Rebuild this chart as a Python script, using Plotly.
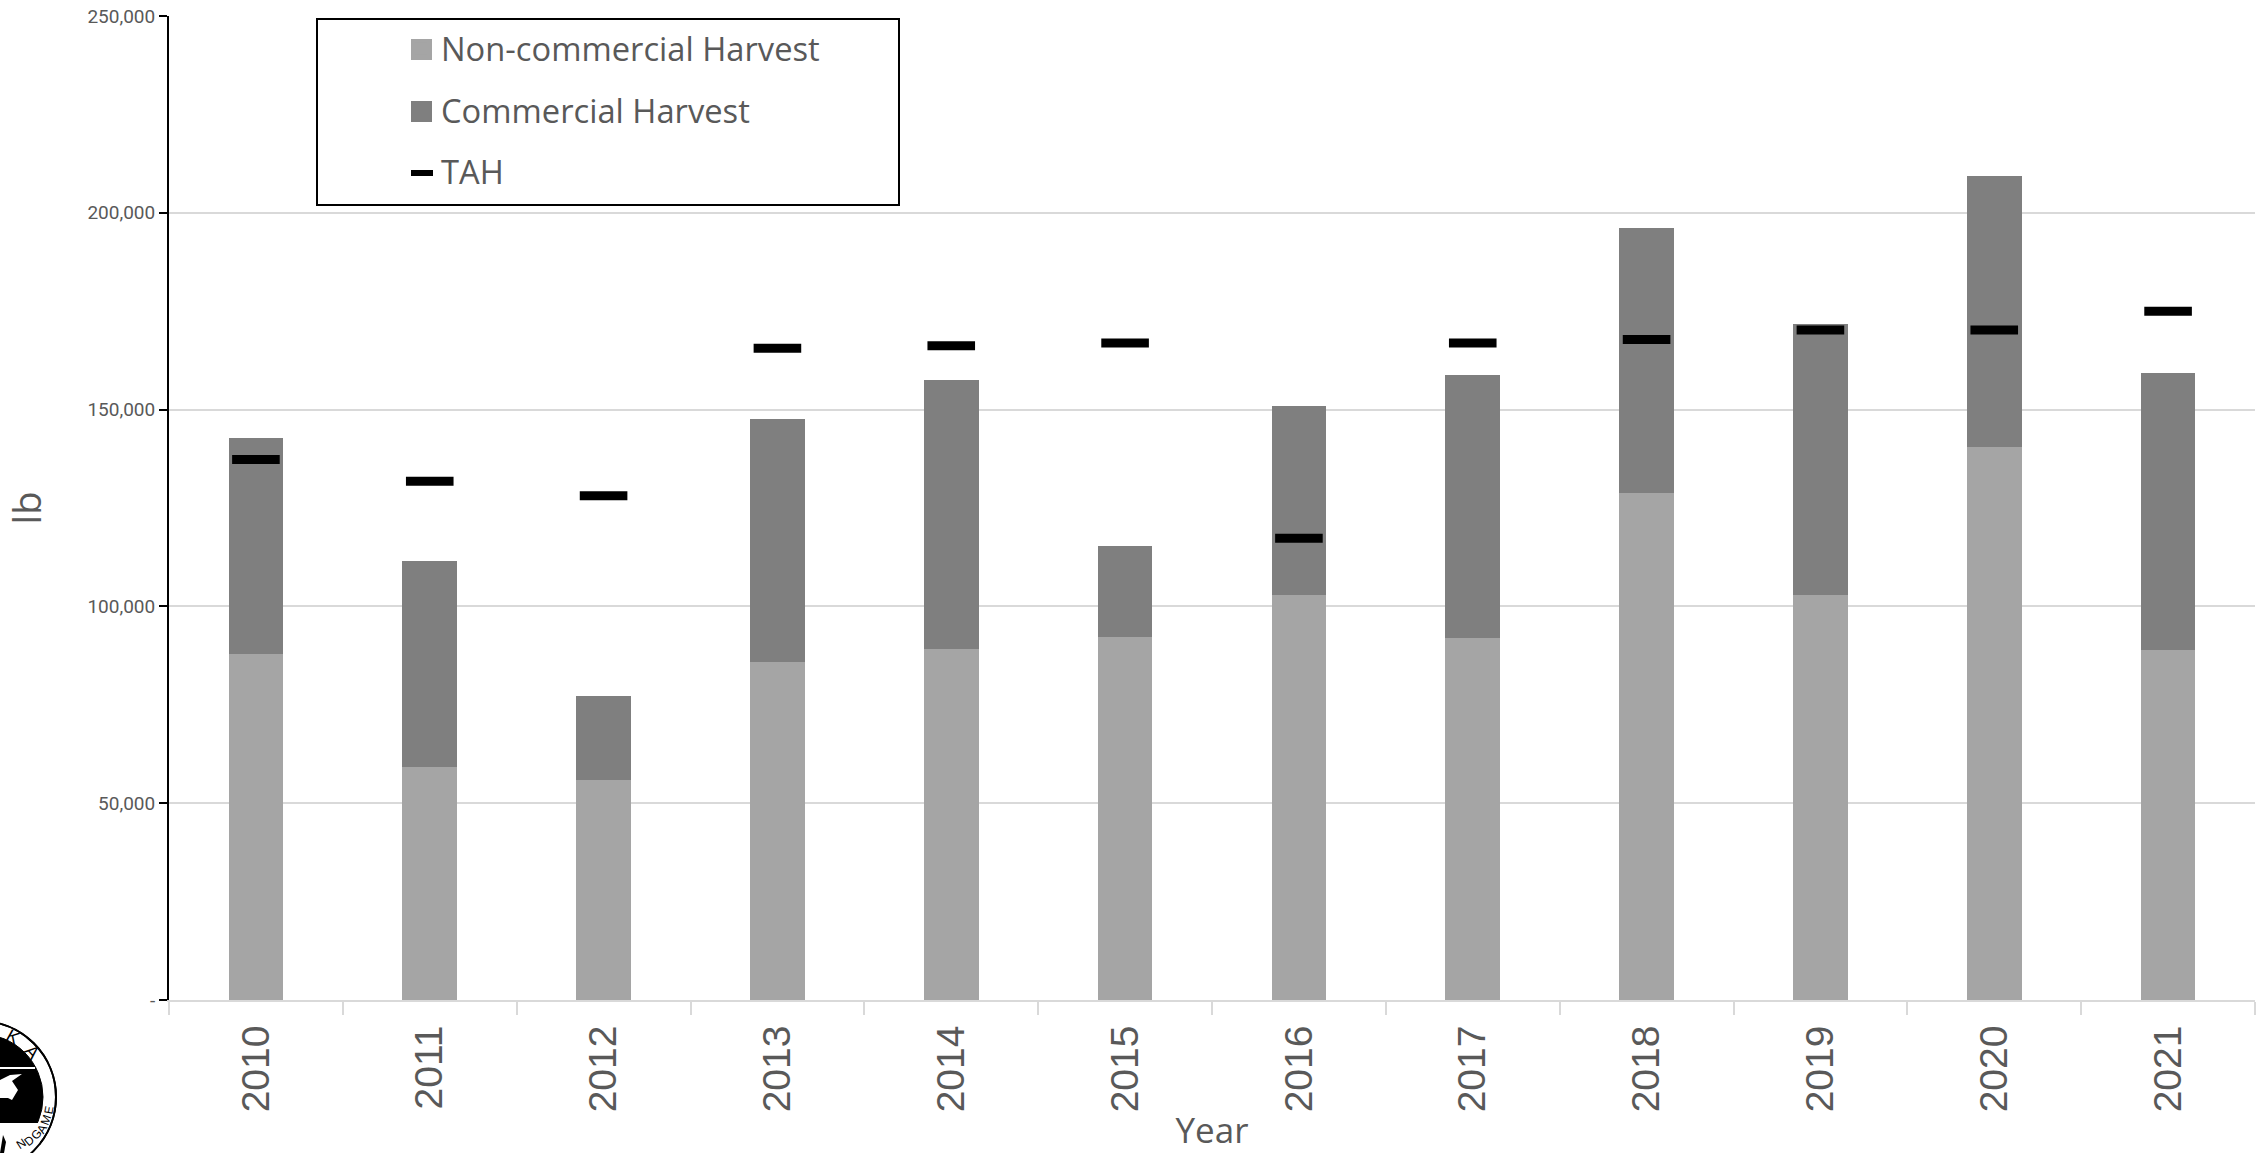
import plotly.graph_objects as go

years = ["2010","2011","2012","2013","2014","2015","2016","2017","2018","2019","2020","2021"]
non_commercial = [87850,59300,56000,86000,89300,92200,102900,91900,128800,102900,140600,89000]
commercial = [54900,52300,21200,61500,68100,23100,47900,67000,67400,68800,68800,70200]
tah = [137300,131800,128100,165600,166200,166900,117300,166900,167800,170200,170200,175000]
y_ticks = [0,50000,100000,150000,200000,250000]
y_labels = ["-","50,000","100,000","150,000","200,000","250,000"]

W, H = 2259, 1153
L, R, T, B = 169, 4, 16, 153
TXT = "#595959"
def px(x): return (x-L)/(W-L-R)
def py(y): return 1-(y-T)/(H-T-B)
def rect(x0,y0,x1,y1,fill="rgba(0,0,0,0)",line=None,width=0):
    return dict(type="rect",xref="paper",yref="paper",x0=px(x0),x1=px(x1),y0=py(y0),y1=py(y1),
                fillcolor=fill,line=dict(color=line or "rgba(0,0,0,0)",width=width),layer="above")
def circ(cx,cy,r,fill,line,width):
    return dict(type="circle",xref="paper",yref="paper",x0=px(cx-r),x1=px(cx+r),y0=py(cy+r),y1=py(cy-r),
                fillcolor=fill,line=dict(color=line,width=width),layer="above")
def poly(pts,fill):
    d="M"+"L".join(f"{px(a):.5f},{py(b):.5f}" for a,b in pts)+"Z"
    return dict(type="path",xref="paper",yref="paper",path=d,fillcolor=fill,line=dict(width=0),layer="above")

fig = go.Figure()
fig.add_bar(x=years, y=non_commercial, name="Non-commercial Harvest", marker=dict(color="#a5a5a5", line=dict(width=0)), width=0.315, legendgroup="a")
fig.add_bar(x=years, y=commercial, name="Commercial Harvest", marker=dict(color="#7f7f7f", line=dict(width=0)), width=0.315, legendgroup="b")
fig.add_scatter(x=years, y=tah, name="TAH", mode="markers", legendgroup="c",
                marker=dict(symbol="line-ew", size=34, color="black", line=dict(color="black", width=9)))

CX, CY = -20, 1097
shapes = [
    rect(317,19,899,205,line="black",width=2),
    rect(411,39,432,60,fill="#a5a5a5"),
    rect(411,101,432,122,fill="#7f7f7f"),
    rect(411,170,433,176,fill="black"),
    circ(CX,CY,76,"white","black",2),
    circ(CX,CY,63,"black","black",1),
    rect(-5,1123,40,1170,fill="white"),
    circ(CX,CY,76,"rgba(0,0,0,0)","black",2),
    rect(0,1067,35,1069,fill="white"),
    poly([(0,1080),(10,1075),(22,1074),(12,1081),(18,1090),(12,1100),(8,1098),(0,1098)],"white"),
    poly([(0,1153),(3,1135),(6,1142),(4,1153)],"black"),
]
letters = [("K",13,1037,29),("A",32,1052,49),("E",49,1110,-80),("M",46,1120,-70),("A",42,1129,-60),
           ("G",36,1135,-52),("D",29,1141,-40),("N",21,1144,-33)]
annotations = [dict(text=t,xref="paper",yref="paper",x=px(a),y=py(b),showarrow=False,textangle=r,
                    xanchor="center",yanchor="middle",
                    font=dict(size=12 if r<0 else 18,family="Liberation Sans",color="black")) for t,a,b,r in letters]

fig.update_layout(
    width=W, height=H, barmode="stack", plot_bgcolor="white", paper_bgcolor="white",
    margin=dict(l=L, r=R, t=T, b=B, autoexpand=False),
    font=dict(family="Open Sans", color=TXT),
    showlegend=True, shapes=shapes, annotations=annotations,
    legend=dict(x=px(401), y=py(20.5), xanchor="left", yanchor="top",
                bgcolor="rgba(0,0,0,0)", borderwidth=0,
                font=dict(size=32.7, color=TXT, family="Open Sans"),
                traceorder="grouped", tracegroupgap=16, itemsizing="constant", itemwidth=30),
    xaxis=dict(type="category", range=[-0.5,11.5], tickson="boundaries", ticks="outside", ticklen=13, tickwidth=2,
               tickcolor="#d9d9d9", showline=True, linecolor="#d9d9d9", linewidth=2,
               tickangle=-90, ticklabelstandoff=8, tickfont=dict(size=39, family="Liberation Sans", color=TXT),
               title=dict(text="Year", font=dict(size=35, family="Open Sans", color=TXT), standoff=11)),
    yaxis=dict(range=[0,250000], tickvals=y_ticks, ticktext=y_labels, ticks="outside", ticklen=8,
               tickwidth=2, tickcolor="black", showline=True, linecolor="black", linewidth=2,
               gridcolor="#d9d9d9", gridwidth=2, zeroline=False,
               tickfont=dict(size=19, family="Roboto", color=TXT),
               title=dict(text="lb", font=dict(size=38, family="Open Sans", color=TXT), standoff=44)),
)
fig.write_html("out.html", config=dict(displayModeBar=False), post_script="document.body.style.margin='0';")
